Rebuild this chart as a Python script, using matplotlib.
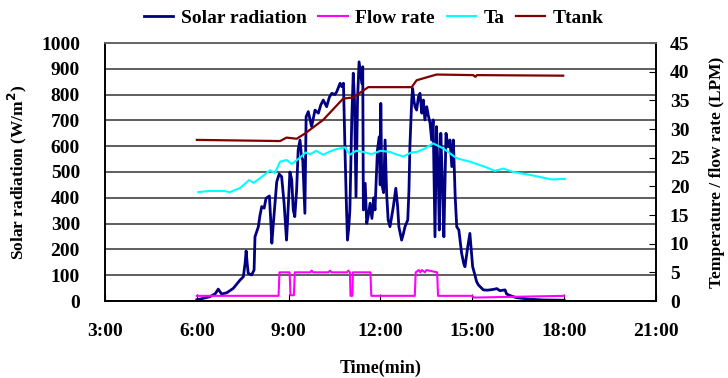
import matplotlib.pyplot as plt
import numpy as np

plt.rcParams['font.family'] = ['Liberation Serif', 'DejaVu Serif']
plt.rcParams['font.weight'] = 'bold'

# time in hours
solar_t = [6.00, 6.2, 6.43, 6.6, 6.7, 6.81, 6.98, 7.19, 7.41, 7.52, 7.58, 7.61, 7.65, 7.68,
           7.79, 7.87, 7.9, 8.01, 8.06, 8.12, 8.2, 8.26, 8.37, 8.42, 8.45, 8.5, 8.61, 8.69,
           8.77, 8.85, 8.93, 8.96, 9.04, 9.1, 9.15, 9.2, 9.26, 9.31, 9.37, 9.42, 9.46, 9.53,
           9.57, 9.64, 9.75, 9.86, 9.97, 10.05, 10.13, 10.24, 10.33, 10.41, 10.51, 10.57,
           10.68, 10.73, 10.79, 10.84, 10.88, 10.92, 10.96, 11.0, 11.06, 11.11, 11.15, 11.2,
           11.25, 11.3, 11.33, 11.39, 11.42, 11.44, 11.5, 11.55, 11.6, 11.66, 11.72, 11.78,
           11.82, 11.9, 11.96, 11.99, 12.01, 12.04, 12.1, 12.15, 12.2, 12.25, 12.31, 12.42,
           12.5, 12.56, 12.6, 12.69, 12.75, 12.8, 12.89, 12.93, 12.96, 13.02, 13.05, 13.1,
           13.13, 13.18, 13.24, 13.29, 13.35, 13.4, 13.45, 13.51, 13.56, 13.62, 13.67, 13.72,
           13.78, 13.83, 13.89, 13.92, 13.97, 14.02, 14.07, 14.14, 14.21, 14.27, 14.33, 14.38,
           14.44, 14.49, 14.56, 14.65, 14.72, 14.76, 14.85, 14.92, 15.01, 15.07, 15.14, 15.2,
           15.36, 15.5, 15.69, 15.8, 15.9, 16.07, 16.12, 16.3, 16.45, 16.88, 17.3, 18.0]
solar_w = [5, 10, 17, 28, 46, 27, 32, 49, 81, 94, 150, 194, 140, 107,
           101, 120, 249, 288, 330, 366, 360, 398, 407, 300, 224, 301, 462, 492,
           482, 380, 236, 300, 500, 470, 353, 327, 430, 585, 624, 560, 547, 340,
           714, 734, 676, 740, 728, 760, 779, 753, 790, 805, 800, 811,
           844, 831, 844, 585, 400, 236, 280, 353, 700, 883, 779, 404,
           780, 927, 900, 844, 908, 353, 456, 301, 330, 379, 320, 400,
           353, 585, 637, 450, 766, 456, 420, 624, 417, 314, 288, 366,
           437, 366, 288, 236, 262, 288, 314, 430, 598, 779, 824, 770,
           753, 740, 792, 805, 728, 779, 702, 753, 720, 689, 624, 702,
           249, 676, 469, 275, 650, 469, 249, 650, 598, 624, 521, 624,
           404, 288, 275, 185, 145, 133, 210, 262, 133, 107, 75, 62,
           43, 42, 45, 48, 40, 43, 27, 18, 13, 7, 4, 3]

flow_t = [6.0, 8.67, 8.70, 9.03, 9.06, 9.17, 9.2, 9.7, 9.75, 9.8, 10.3, 10.35, 10.4,
          10.9, 10.95, 11.0, 11.02, 11.08, 11.1, 11.67, 11.7, 13.12, 13.15, 13.25, 13.3,
          13.35, 13.45, 13.5, 13.85, 13.88, 15.0, 15.05, 18.0]
flow_v = [0.9, 0.9, 5.0, 5.0, 1.0, 1.0, 5.0, 5.0, 5.3, 5.0, 5.0, 5.3, 5.0,
          5.0, 5.3, 5.0, 0.9, 0.9, 5.0, 5.0, 0.9, 0.9, 5.0, 5.4, 5.0,
          5.4, 5.0, 5.4, 5.0, 0.9, 0.9, 0.6, 0.9]

ta_t = [6.05, 6.43, 6.87, 7.08, 7.41, 7.71, 7.85, 8.06, 8.39, 8.55, 8.72, 8.93, 9.1,
        9.37, 9.55, 9.7, 9.9, 10.13, 10.35, 10.57, 10.84, 11.0, 11.2, 11.44, 11.7, 12.0,
        12.31, 12.5, 12.75, 13.0, 13.18, 13.45, 13.72, 14.05,
        14.49, 14.92, 15.36, 15.74, 16.01, 16.34, 16.88, 17.59, 18.03]
ta_v = [19.0, 19.2, 19.2, 19.0, 19.7, 21.1, 20.6, 21.4, 22.8, 22.3, 24.3, 24.6, 23.9,
        25.0, 25.9, 25.6, 26.2, 25.5, 26.1, 26.5, 26.8, 25.5, 26.2, 26.0, 25.6, 26.2,
        26.0, 25.6, 25.2, 25.9, 26.0, 26.6, 27.5, 26.6,
        24.9, 24.3, 23.5, 22.7, 23.1, 22.5, 22.0, 21.2, 21.3]

ttank_t = [6.0, 8.72, 8.93, 9.26, 9.53, 10.13, 10.78, 11.11, 11.6, 13.02, 13.18, 13.83,
           15.03, 15.1, 15.15, 17.97]
ttank_v = [28.1, 27.9, 28.5, 28.3, 29.2, 31.6, 35.3, 35.5, 37.3, 37.3, 38.5, 39.5,
           39.4, 39.1, 39.4, 39.3]

xticks = [3, 6, 9, 12, 15, 18, 21]
xlabels = ['3:00', '6:00', '9:00', '12:00', '15:00', '18:00', '21:00']

fig = plt.figure(figsize=(7.28, 3.78), dpi=100)
ax = fig.add_axes([105 / 728, 1 - 301 / 378, 551 / 728, 258 / 378])
ax2 = ax.twinx()

l1, = ax.plot(solar_t, solar_w, color='#000080', lw=2.0, label='Solar radiation')
l2, = ax2.plot(flow_t, flow_v, color='#ff00ff', lw=1.5, label='Flow rate')
l3, = ax2.plot(ta_t, ta_v, color='#00ffff', lw=1.5, label='Ta')
l4, = ax2.plot(ttank_t, ttank_v, color='#800000', lw=1.6, label='Ttank')

ax.set_xlim(3, 21)
ax.set_ylim(0, 1000)
ax2.set_ylim(0, 45)
ax.set_yticks(np.arange(0, 1001, 100))
ax2.set_yticks(np.arange(0, 46, 5))
ax.set_xticks(xticks)
ax.set_xticklabels(xlabels)
ax.grid(axis='y', color='#333333', lw=1.1)
ax.set_axisbelow(True)

ax.tick_params(axis='y', length=0, pad=18, labelsize=14)
ax.tick_params(axis='x', direction='in', length=5, pad=16, labelsize=14)
ax2.tick_params(axis='y', direction='in', length=5, pad=10, labelsize=14)

for a in (ax, ax2):
    for s in a.spines.values():
        s.set_linewidth(1.2)
ax2.spines['top'].set_color('#777777')

ax.set_ylabel('Solar radiation (W/m$\\mathbf{^2}$)', fontsize=12.5, fontweight='bold')
ax2.set_ylabel('Temperature / flow rate (LPM)', fontsize=12.5, fontweight='bold', labelpad=14)
ax.set_xlabel('Time(min)', fontsize=13, fontweight='bold', labelpad=14)
ax.yaxis.set_label_coords(-0.138, 0.5)

fig.legend(handles=[l1, l2, l3, l4], loc='center', bbox_to_anchor=(374 / 728, 1 - 18 / 378),
           ncol=4, frameon=False, fontsize=14, handlelength=1.5, handletextpad=0.4,
           columnspacing=0.6, borderaxespad=0)

fig.savefig('out.png', dpi=100)
